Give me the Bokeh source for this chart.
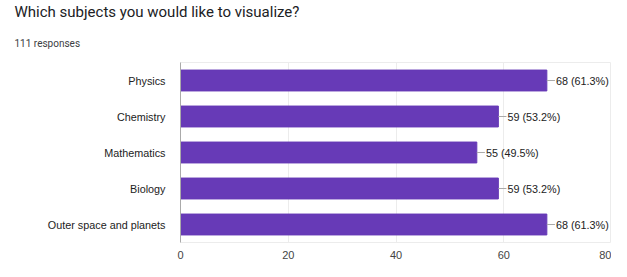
from bokeh.plotting import figure
from bokeh.models import ColumnDataSource, FactorRange, Title, Range1d, FixedTicker
from bokeh.embed import file_html
from bokeh.resources import INLINE

categories = ["Physics", "Chemistry", "Mathematics", "Biology", "Outer space and planets"]
counts = [68, 59, 55, 59, 68]
percents = ["61.3%", "53.2%", "49.5%", "53.2%", "61.3%"]
x_ticks = [0, 20, 40, 60, 80]

labels = [f"{c} ({p})" for c, p in zip(counts, percents)]
lead_end = [c + 1.5 for c in counts]
src = ColumnDataSource(dict(cat=categories, val=counts, lab=labels, lead=lead_end))

p = figure(width=611, height=261, output_backend="svg", toolbar_location=None,
           y_range=FactorRange(*reversed(categories), range_padding=0),
           x_range=Range1d(0, 80),
           min_border_left=180, min_border_right=0, min_border_top=7, min_border_bottom=0)

p.hbar(y="cat", right="val", height=0.58, color="#673AB7", source=src)
p.segment(x0="val", y0="cat", x1="lead", y1="cat", line_color="#aaaaaa", line_width=1, source=src)
p.text(x="lead", y="cat", text="lab", text_font_size="10.8px", text_color="#222222",
       text_baseline="middle", text_align="left", x_offset=1, source=src,
       text_font={"value": "Liberation Sans"})

# titles
sub = Title(text="111 responses", text_font="Roboto", text_font_size="10px",
            text_color="#3c4043", text_font_style="normal", align="left", offset=-166, standoff=28)
p.add_layout(sub, "above")
main = Title(text="Which subjects you would like to visualize?", text_font="Roboto",
             text_font_size="15px", text_color="#202124", text_font_style="normal",
             align="left", offset=-166, standoff=1)
p.add_layout(main, "above")

p.outline_line_color = "#ececec"
p.ygrid.grid_line_color = None
p.xgrid.grid_line_color = "#ececec"
p.xaxis.ticker = FixedTicker(ticks=x_ticks)
p.xaxis.axis_line_color = None
p.xaxis.major_tick_line_color = None
p.xaxis.minor_tick_line_color = None
p.xaxis.major_label_text_font = "Liberation Sans"
p.xaxis.major_label_text_font_size = "11px"
p.xaxis.major_label_text_color = "#444444"
p.xaxis.major_label_standoff = 2

p.yaxis.axis_line_color = "#aaaaaa"
p.yaxis.major_tick_line_color = None
p.yaxis.minor_tick_line_color = None
p.yaxis.major_label_text_font = "Liberation Sans"
p.yaxis.major_label_text_font_size = "10.8px"
p.yaxis.major_label_text_color = "#222222"
p.yaxis.major_label_standoff = 9

open("out.html", "w").write(file_html(p, INLINE))
